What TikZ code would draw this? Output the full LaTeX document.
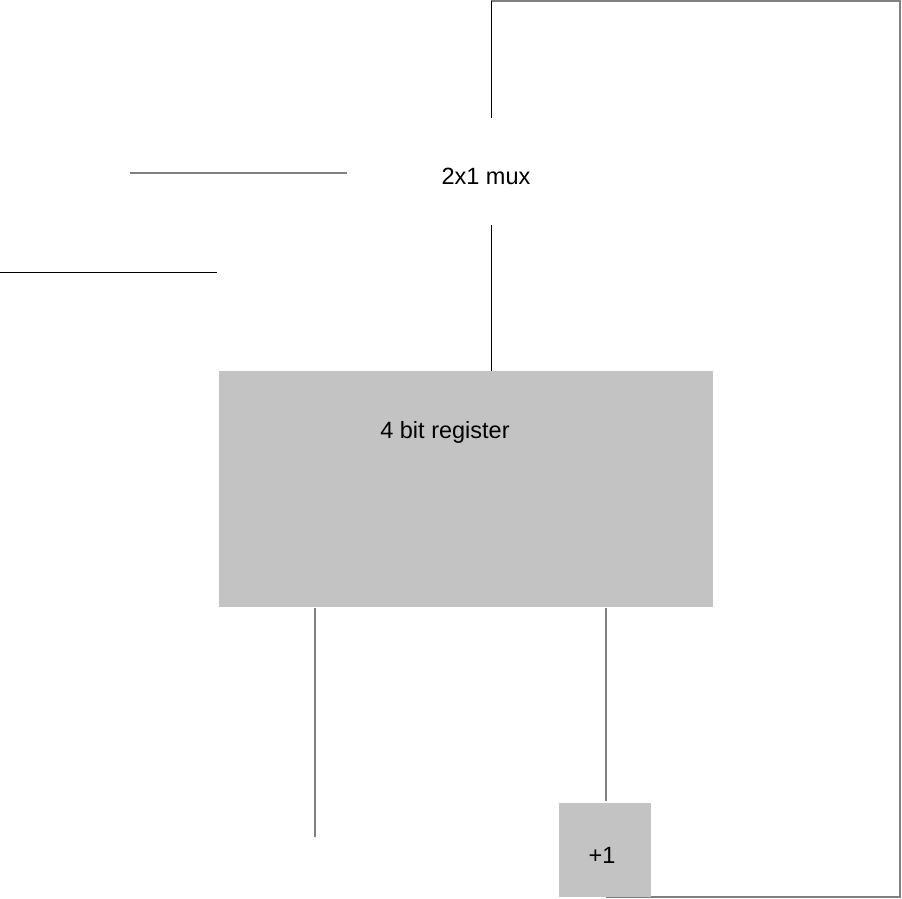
\documentclass[tikz,border=0pt]{standalone}
\usepackage{fontspec}
\setmainfont{Liberation Sans}
\usetikzlibrary{backgrounds}
\definecolor{boxgray}{HTML}{C3C3C3}
\definecolor{wiregray}{HTML}{808080}
\tikzset{
  blockbox/.style={fill=boxgray, draw=none, inner sep=0pt, anchor=north west},
  lbl/.style={font=\fontsize{23.5}{28}\selectfont, inner sep=0pt},
  graywire/.style={draw=wiregray, line width=1.4pt},
  blackwire/.style={draw=black, line width=0.9pt},
}
\begin{document}
\begin{tikzpicture}[x=1pt,y=-1pt]
\useasboundingbox (0,0) rectangle (902,899);
% blocks
\node[blockbox, minimum width=494pt, minimum height=236pt] (reg) at (219,371) {};
\node[lbl] (regtxt) at (445,432) {4 bit register};
\node[blockbox, minimum width=92pt, minimum height=94pt] (inc) at (559,803) {};
\node[lbl] (inctxt) at (602,855) {+1};
\node[lbl] (mux) at (486,176) {2x1 mux};
% coordinates
\coordinate (tl) at (491,1);
\coordinate (tr) at (900,1);
\coordinate (br) at (900,897);
\coordinate (bl) at (606,897);
\coordinate (muxtop) at (491,118);
\coordinate (muxbot) at (491,225);
\coordinate (regin) at (491,371);
\coordinate (a1) at (130,173);
\coordinate (a2) at (347,173);
\coordinate (b1) at (0,272);
\coordinate (b2) at (217,272);
\coordinate (o1) at (315,608);
\coordinate (o2) at (315,837);
\coordinate (p1) at (606,608);
\coordinate (p2) at (606,801);
\begin{scope}[on background layer]
\draw[graywire] (tl) -- (tr) -- (br) -- (bl);
\end{scope}
\draw[blackwire] (tl) -- (muxtop);
\draw[blackwire] (muxbot) -- (regin);
\draw[graywire] (a1) -- (a2);
\draw[blackwire] (b1) -- (b2);
\draw[graywire] (o1) -- (o2);
\draw[graywire] (p1) -- (p2);
\end{tikzpicture}
\end{document}
